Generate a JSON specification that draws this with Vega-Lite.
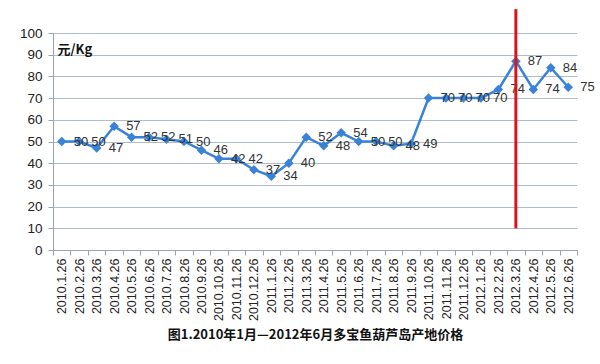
{
  "$schema": "https://vega.github.io/schema/vega-lite/v6.json",
  "autosize": {"type": "none"},
  "width": 524,
  "height": 217,
  "padding": {"left": 53, "top": 33, "right": 23, "bottom": 114},
  "background": "white",
  "config": {
    "view": {"stroke": null},
    "font": "Liberation Sans",
    "axis": {"labelFont": "Liberation Sans", "titleFont": "Noto Sans CJK SC"}
  },
  "datasets": {
    "price": [
      {"date": "2010.1.26", "price": 50},
      {"date": "2010.2.26", "price": 50},
      {"date": "2010.3.26", "price": 47},
      {"date": "2010.4.26", "price": 57},
      {"date": "2010.5.26", "price": 52},
      {"date": "2010.6.26", "price": 52},
      {"date": "2010.7.26", "price": 51},
      {"date": "2010.8.26", "price": 50},
      {"date": "2010.9.26", "price": 46},
      {"date": "2010.10.26", "price": 42},
      {"date": "2010.11.26", "price": 42},
      {"date": "2010.12.26", "price": 37},
      {"date": "2011.1.26", "price": 34},
      {"date": "2011.2.26", "price": 40},
      {"date": "2011.3.26", "price": 52},
      {"date": "2011.4.26", "price": 48},
      {"date": "2011.5.26", "price": 54},
      {"date": "2011.6.26", "price": 50},
      {"date": "2011.7.26", "price": 50},
      {"date": "2011.8.26", "price": 48},
      {"date": "2011.9.26", "price": 49},
      {"date": "2011.10.26", "price": 70},
      {"date": "2011.11.26", "price": 70},
      {"date": "2011.12.26", "price": 70},
      {"date": "2012.1.26", "price": 70},
      {"date": "2012.2.26", "price": 74},
      {"date": "2012.3.26", "price": 87},
      {"date": "2012.4.26", "price": 74},
      {"date": "2012.5.26", "price": 84},
      {"date": "2012.6.26", "price": 75}
    ],
    "marker": [{"date": "2012.3.26", "price": 10, "high": 111}]
  },
  "encoding": {
    "x": {
      "field": "date", "type": "ordinal", "sort": null,
      "scale": {"paddingInner": 0, "paddingOuter": 0},
      "axis": {
        "title": "图1.2010年1月—2012年6月多宝鱼葫芦岛产地价格",
        "titleFontSize": 13, "titleFontWeight": "bold", "titleColor": "#111",
        "titlePadding": 8,
        "labelAngle": -90, "labelFontSize": 12.5, "labelColor": "#222",
        "labelPadding": 3,
        "tickBand": "extent", "ticks": true, "tickColor": "#98a6b4", "tickSize": 5,
        "domainColor": "#98a6b4", "grid": false
      }
    },
    "y": {
      "field": "price", "type": "quantitative",
      "scale": {"domain": [0, 100], "nice": false},
      "axis": {
        "values": [0, 10, 20, 30, 40, 50, 60, 70, 80, 90, 100],
        "tickCount": 11,
        "labelOverlap": false, "labelFlush": false,
        "title": "元/Kg", "titleAngle": 0, "titleAlign": "left", "titleBaseline": "middle",
        "titleX": 4, "titleY": 16, "titleFontSize": 13, "titleFontWeight": "bold", "titleColor": "#111",
        "labelFontSize": 13.5, "labelColor": "#222", "labelPadding": 6,
        "grid": true, "gridColor": "#aebccb", "gridWidth": 1,
        "domainColor": "#98a6b4", "tickColor": "#98a6b4", "tickSize": 5
      }
    }
  },
  "layer": [
    {
      "data": {"name": "price"},
      "mark": {"type": "line", "color": "#3a82d8", "strokeWidth": 2.5}
    },
    {
      "data": {"name": "price"},
      "mark": {"type": "point", "shape": "diamond", "filled": true, "color": "#3a82d8", "size": 90, "opacity": 1}
    },
    {
      "data": {"name": "price"},
      "mark": {"type": "text", "align": "left", "dx": 12, "fontSize": 13, "color": "#333"},
      "encoding": {
        "text": {"field": "price", "type": "quantitative"}
      }
    },
    {
      "data": {"name": "marker"},
      "mark": {"type": "rule", "color": "#d9141e", "strokeWidth": 3, "clip": false},
      "encoding": {
        "y2": {"field": "high"}
      }
    }
  ]
}
